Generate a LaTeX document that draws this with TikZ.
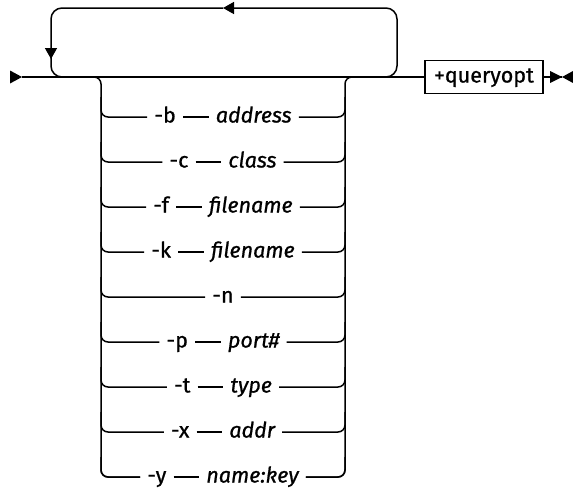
\documentclass[tikz,border=0pt]{standalone}
\usepackage{fontspec}
\setmainfont{Fira Sans}[FakeBold=0.8]
\usetikzlibrary{arrows.meta,positioning}
\tikzset{
  rail/.style={line width=1.5pt},
  curve/.style={rail, rounded corners=7pt},
  loopcurve/.style={rail, rounded corners=11pt},
  railarrow/.style={-{Triangle[length=11pt,width=12pt]}},
  opt/.style={inner xsep=7pt, inner ysep=0pt, text height=11pt, text depth=0pt}
}
\begin{document}
\begin{tikzpicture}[x=1pt,y=-1pt,font=\fontsize{21.5}{25}\selectfont]
\useasboundingbox (0,0) rectangle (573,493);
% points on the main line
\coordinate (start) at (22,77);
\coordinate (loopin) at (72,77);
\coordinate (split) at (88,77);
\coordinate (join) at (358,77);
\coordinate (loopout) at (375,77);
\coordinate (stop) at (562,77);
% option box at the end
\node[draw, line width=1.3pt, minimum width=118pt, minimum height=33pt, inner sep=0pt,
  text height=11pt, text depth=0pt] (query) at (484,77) {+queryopt};
% main line with start and end marks
\draw[rail] (start) -- (query);
\draw[rail] (query) -- (stop);
\fill (10,70.5) -- (start) -- (10,83.5) -- cycle;
\fill (550,71) -- (stop) -- (550,83) -- cycle;
\fill (573,71) -- (stop) -- (573,83) -- cycle;
% repeat loop over the stack
\draw[loopcurve, railarrow] (loopout) -| (397,8) -- (223,8);
\draw[loopcurve, railarrow] (223,8) -| (51,59);
\draw[loopcurve] (51,50) |- (loopin);
% stack of choices
\foreach \y/\flag/\arg [count=\i] in {117/-b/address, 162/-c/class, 207/-f/filename,
    252/-k/filename, 342/-p/port\#, 387/-t/type, 432/-x/addr, 477/-y/name:key} {
  \node[opt] (row\i) at (223,\y) {\phantom{\flag}\hspace{40pt}\phantom{\itshape\arg}};
  \node[opt, anchor=west] (flag\i) at (row\i.west) {\flag};
  \node[opt, anchor=east] (arg\i) at (row\i.east) {\itshape\arg};
  \draw[rail] (flag\i) -- (arg\i);
  \draw[curve] (101,\y-20) |- (flag\i);
  \draw[curve] (arg\i) -| (345,\y-20);
}
\node[opt] (flagn) at (223,297) {-n};
\draw[curve] (101,277) |- (flagn);
\draw[curve] (flagn) -| (345,277);
% left and right sides of the stack
\draw[curve] (split) -| (101,477) -- (flag8);
\draw[curve] (arg8) -| (345,77) -- (join);
\end{tikzpicture}
\end{document}
